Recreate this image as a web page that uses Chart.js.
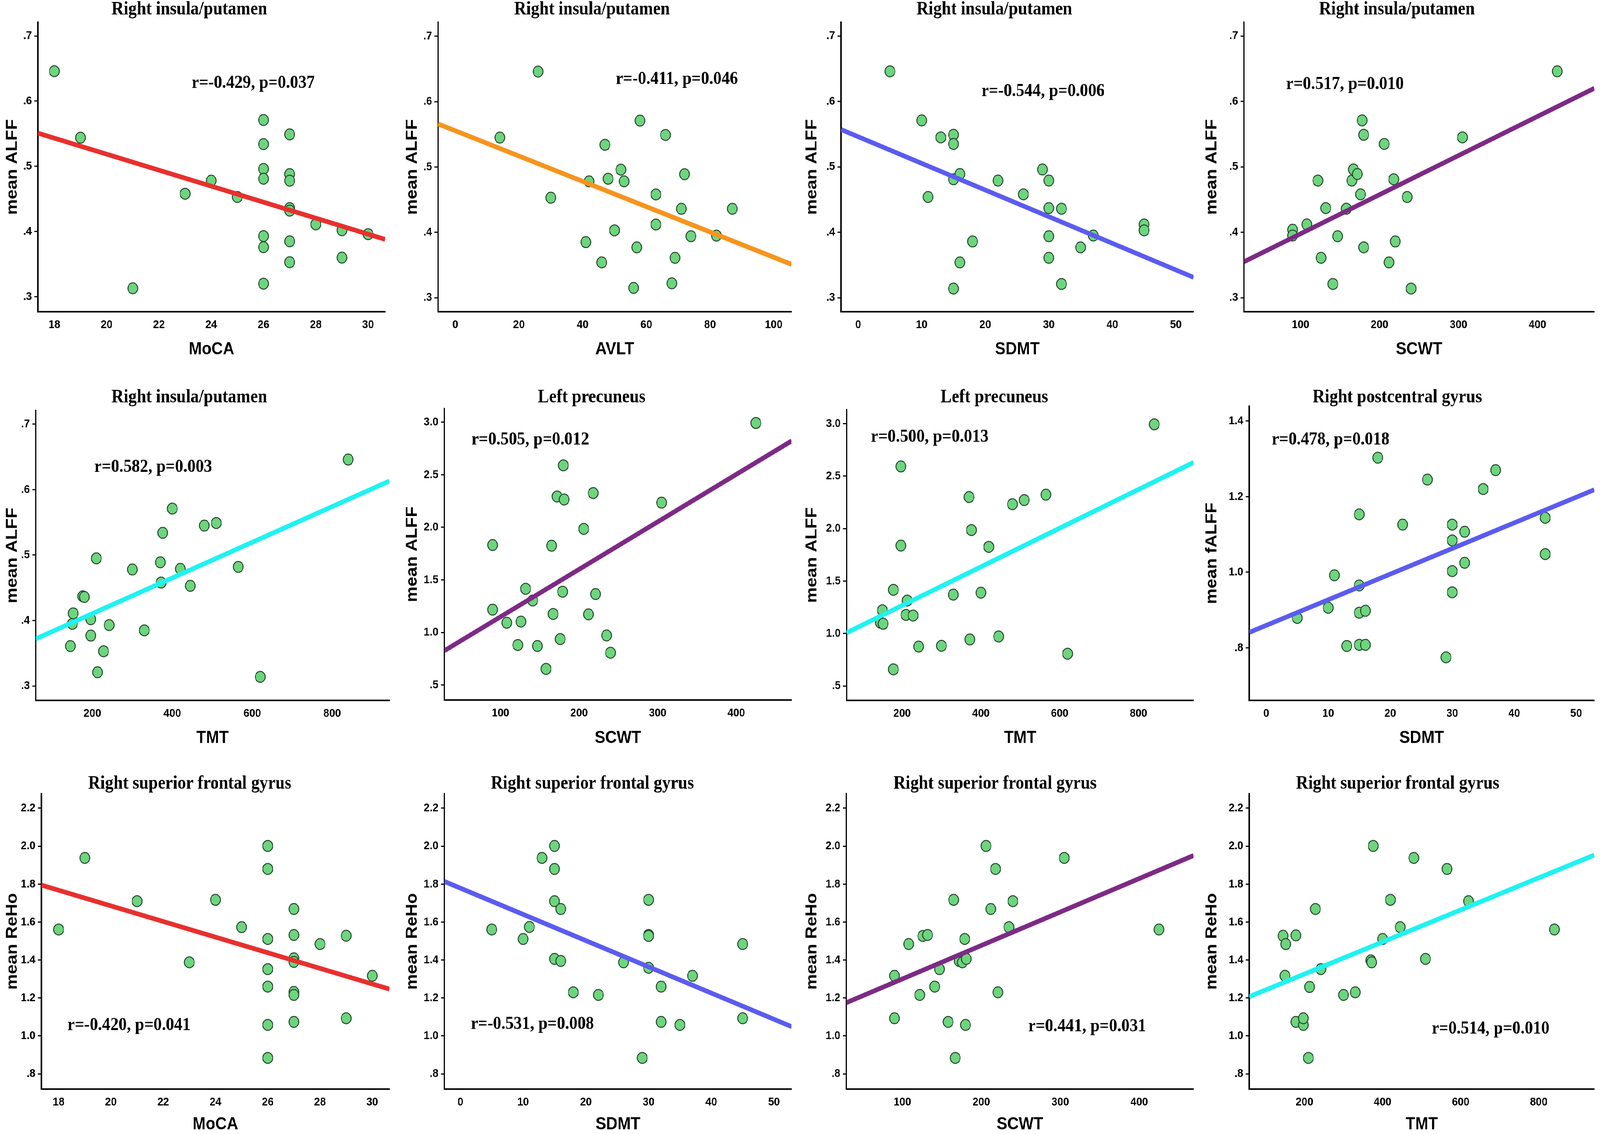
<!DOCTYPE html>
<html>
<head>
<meta charset="utf-8">
<script src="https://cdn.jsdelivr.net/npm/chart.js@4"></script>
<style>
  html, body { margin: 0; padding: 0; background: #fff; overflow: hidden; }
  #stage { position: absolute; left: 0; top: 0; width: 4562px; height: 2903px; transform-origin: 0 0; background: #fff; }
  canvas { position: absolute; }
</style>
</head>
<body>
<div id="stage"></div>
<script>
// ---- data ----
const mocaA = [18, 19, 21, 23, 24, 25, 26, 26, 26, 26, 26, 26, 26, 27, 27, 27, 27, 27, 27, 27, 28, 29, 29, 30];
const alffA = [.646, .544, .313, .458, .478, .453, .571, .534, .496, .481, .393, .376, .320, .549, .488, .478, .436, .432, .385, .353, .411, .402, .360, .396];

const avlt = [14, 26, 30, 41, 42, 46, 47, 48, 50, 52, 53, 56, 57, 58, 63, 63, 66, 68, 69, 71, 72, 74, 82, 87];
const alffB = [.545, .646, .453, .385, .478, .354, .534, .482, .403, .496, .478, .315, .377, .571, .458, .412, .549, .322, .361, .436, .489, .394, .395, .436];

const sdmtA = [5, 10, 11, 13, 15, 15, 15, 15, 16, 16, 18, 22, 26, 29, 30, 30, 30, 30, 32, 32, 35, 37, 45, 45];
const alffC = [.646, .571, .454, .545, .549, .535, .481, .314, .489, .354, .386, .479, .458, .496, .479, .437, .394, .361, .436, .321, .377, .395, .412, .403];

const scwtA = [90, 90, 108, 122, 126, 132, 141, 147, 158, 165, 167, 172, 176, 178, 180, 180, 206, 212, 218, 220, 235, 240, 305, 425];
const alffD = [.404, .395, .412, .479, .361, .437, .321, .394, .436, .479, .496, .489, .458, .571, .549, .377, .535, .354, .481, .386, .454, .314, .545, .646];

const tmtA = [145, 150, 152, 176, 180, 196, 196, 210, 213, 228, 242, 300, 330, 370, 372, 376, 400, 420, 445, 480, 510, 565, 620, 840];
const alffE = [.361, .395, .411, .437, .436, .402, .377, .495, .321, .353, .393, .478, .385, .489, .458, .534, .571, .479, .453, .545, .549, .482, .314, .646];

const scwtB = [90, 90, 108, 122, 126, 132, 141, 147, 158, 165, 167, 172, 176, 179, 180, 181, 206, 212, 218, 221, 235, 240, 305, 425];
const alffF = [1.832, 1.217, 1.092, .880, 1.103, 1.415, 1.304, .871, .653, 1.825, 1.176, 2.294, .937, 1.388, 2.590, 2.265, 1.985, 1.172, 2.326, 1.365, .971, .807, 2.235, 2.993];

const tmtB = [145, 150, 152, 178, 178, 197, 197, 210, 213, 228, 242, 300, 330, 370, 372, 376, 400, 420, 445, 480, 510, 565, 620, 840];
const alffG = [1.104, 1.222, 1.093, 1.416, .659, 1.838, 2.592, 1.177, 1.314, 1.172, .876, .883, 1.371, 2.300, .944, 1.986, 1.389, 1.826, .972, 2.232, 2.271, 2.323, .808, 2.993];

const sdmtB = [5, 10, 11, 13, 15, 15, 15, 15, 16, 16, 18, 22, 26, 29, 30, 30, 30, 30, 32, 32, 35, 37, 45, 45];
const falff = [.879, .906, .992, .805, 1.153, .965, .893, .808, .898, .808, 1.303, 1.126, 1.245, .775, 1.126, 1.084, 1.003, .947, 1.107, 1.025, 1.220, 1.270, 1.144, 1.048];

const mocaB = [18, 19, 21, 23, 24, 25, 26, 26, 26, 26, 26, 26, 26, 27, 27, 27, 27, 27, 27, 27, 28, 29, 29, 30];
const rehoA = [1.561, 1.938, 1.710, 1.388, 1.717, 1.573, 2.001, 1.880, 1.511, 1.352, 1.260, 1.058, .884, 1.669, 1.532, 1.409, 1.390, 1.232, 1.216, 1.074, 1.484, 1.528, 1.093, 1.317];

const sdmtC = [5, 10, 11, 13, 15, 15, 15, 15, 16, 16, 18, 22, 26, 29, 30, 30, 30, 30, 32, 32, 35, 37, 45, 45];
const rehoB = [1.561, 1.511, 1.574, 1.938, 2.001, 1.880, 1.710, 1.406, 1.669, 1.395, 1.230, 1.216, 1.388, .884, 1.717, 1.532, 1.527, 1.359, 1.260, 1.074, 1.058, 1.317, 1.484, 1.093];

const scwtC = [90, 90, 108, 122, 126, 132, 141, 147, 158, 165, 167, 172, 176, 179, 180, 181, 206, 212, 218, 221, 235, 240, 305, 425];
const rehoC = [1.317, 1.093, 1.484, 1.216, 1.527, 1.532, 1.260, 1.352, 1.074, 1.717, .884, 1.395, 1.388, 1.511, 1.058, 1.406, 2.001, 1.669, 1.880, 1.230, 1.573, 1.710, 1.938, 1.561];

const tmtC = [145, 150, 152, 178, 178, 197, 197, 210, 213, 228, 242, 300, 330, 370, 372, 376, 400, 420, 445, 480, 510, 565, 620, 840];
const rehoD = [1.528, 1.317, 1.484, 1.074, 1.530, 1.058, 1.093, .884, 1.258, 1.669, 1.352, 1.216, 1.230, 1.398, 1.388, 2.001, 1.511, 1.717, 1.573, 1.938, 1.406, 1.880, 1.710, 1.561];

// fit line end points [x0, y0, x1, y1], read at the axis ends
const fitLines = [
  [17.37, .551, 30.65, .388],
  [-5.4, .566, 105.6, .351],
  [-2.7, .557, 52.8, .331],
  [28.5, .355, 471.8, .620],
  [58.4, .372, 942.9, .613],
  [28.6, .826, 470.4, 2.822],
  [59.4, 1.008, 940, 2.631],
  [-2.73, .841, 52.9, 1.218],
  [17.34, 1.795, 30.65, 1.247],
  [-2.56, 1.814, 52.8, 1.049],
  [29, 1.175, 469, 1.951],
  [58.6, 1.207, 942, 1.953]
];

const titles = ['Right insula/putamen', 'Right insula/putamen', 'Right insula/putamen', 'Right insula/putamen',
  'Right insula/putamen', 'Left precuneus', 'Left precuneus', 'Right postcentral gyrus',
  'Right superior frontal gyrus', 'Right superior frontal gyrus', 'Right superior frontal gyrus', 'Right superior frontal gyrus'];
const stats = ['r=-0.429, p=0.037', 'r=-0.411, p=0.046', 'r=-0.544, p=0.006', 'r=0.517, p=0.010',
  'r=0.582, p=0.003', 'r=0.505, p=0.012', 'r=0.500, p=0.013', 'r=0.478, p=0.018',
  'r=-0.420, p=0.041', 'r=-0.531, p=0.008', 'r=0.441, p=0.031', 'r=0.514, p=0.010'];
const xTitles = ['MoCA', 'AVLT', 'SDMT', 'SCWT', 'TMT', 'SCWT', 'TMT', 'SDMT', 'MoCA', 'SDMT', 'SCWT', 'TMT'];
const yTitles = ['mean ALFF', 'mean ALFF', 'mean ALFF', 'mean ALFF', 'mean ALFF', 'mean ALFF', 'mean ALFF',
  'mean fALFF', 'mean ReHo', 'mean ReHo', 'mean ReHo', 'mean ReHo'];

const mocaTicks = [18, 20, 22, 24, 26, 28, 30];
const avltTicks = [0, 20, 40, 60, 80, 100];
const sdmtTicks = [0, 10, 20, 30, 40, 50];
const scwtTicks = [100, 200, 300, 400];
const tmtTicks = [200, 400, 600, 800];
const alffTicks = [.3, .4, .5, .6, .7];
const precTicks = [.5, 1.0, 1.5, 2.0, 2.5, 3.0];
const falffTicks = [.8, 1.0, 1.2, 1.4];
const rehoTicks = [.8, 1.0, 1.2, 1.4, 1.6, 1.8, 2.0, 2.2];

const series = [
  [mocaA, alffA, mocaTicks, alffTicks],
  [avlt, alffB, avltTicks, alffTicks],
  [sdmtA, alffC, sdmtTicks, alffTicks],
  [scwtA, alffD, scwtTicks, alffTicks],
  [tmtA, alffE, tmtTicks, alffTicks],
  [scwtB, alffF, scwtTicks, precTicks],
  [tmtB, alffG, tmtTicks, precTicks],
  [sdmtB, falff, sdmtTicks, falffTicks],
  [mocaB, rehoA, mocaTicks, rehoTicks],
  [sdmtC, rehoB, sdmtTicks, rehoTicks],
  [scwtC, rehoC, scwtTicks, rehoTicks],
  [tmtC, rehoD, tmtTicks, rehoTicks]
];

// axis ranges as drawn in the figure
const yRanges = [[.277, .721], [.2785, .7215], [.2786, .721], [.2786, .721], [.278, .7208],
  [.357, 3.13], [.363, 3.132], [.661, 1.439], [.72, 2.276], [.72, 2.276], [.72, 2.276], [.72, 2.276]];

// ---- layout (page pixels of the 4562x2903 figure) ----
const lineColors = ['#e8302e', '#f7941d', '#5b5cf0', '#7d2a85', '#1ff2f2', '#7d2a85',
  '#1ff2f2', '#5b5cf0', '#e8302e', '#5b5cf0', '#7d2a85', '#1ff2f2'];
const colX = [0, 1140, 2280, 3420];
const colW = [1140, 1140, 1140, 1142];
const rowY = [0, 960, 1940];
const rowH = [960, 980, 963];
const plotRects = [
  [108, 57, 1098, 798], [1249, 57, 2257, 798], [2398, 57, 3405, 798], [3547, 57, 4554, 798],
  [102, 1051, 1110, 1793], [1267, 1046, 2257, 1792], [2414, 1049, 3407, 1793], [3562, 1040, 4554, 1793],
  [118, 2032, 1110, 2788], [1267, 2032, 2257, 2788], [2413, 2032, 3405, 2788], [3562, 2032, 4554, 2788]
];
const titlePos = [[540, 37], [1688, 37], [2835, 37], [3983, 37], [540, 1030], [1687, 1030], [2835, 1030], [3984, 1030],
  [541, 2019], [1689, 2019], [2837, 2019], [3985, 2019]];
const statPos = [[722, 225], [1930, 215], [2974, 246], [3835, 228], [437, 1208], [1512, 1138], [2651, 1131], [3794, 1138],
  [368, 2637], [1518, 2634], [3100, 2640], [4250, 2646]];
const xTitlePad = [42.5, 27.5, 1.5];

const SANS = '"Liberation Sans", Arial, sans-serif';
const SERIF = '"Liberation Serif", "Times New Roman", serif';

// stretch the 4562x2903 stage over whatever viewport we actually get
const stage = document.getElementById('stage');
const vw = window.innerWidth || 4562, vh = window.innerHeight || 2903;
const sx = vw / 4562, sy = vh / 2903;
stage.style.transform = 'scale(' + sx + ',' + sy + ')';
document.body.style.width = vw + 'px';
document.body.style.height = vh + 'px';
const dpr = window.devicePixelRatio || 1;

function fmtY(v) {
  let s = Number(v).toFixed(1);
  if (s.startsWith('0.')) s = s.slice(1);
  return s;
}

const textPlugin = {
  id: 'panelText',
  afterDraw(chart, args, opts) {
    const ctx = chart.ctx;
    ctx.save();
    ctx.fillStyle = '#000';
    ctx.textAlign = 'center';
    ctx.textBaseline = 'alphabetic';
    ctx.font = 'bold 48px ' + SERIF;
    ctx.fillText(opts.title, opts.tx, opts.ty);
    ctx.font = 'bold 47px ' + SERIF;
    ctx.fillText(opts.stat, opts.sx, opts.sy);
    ctx.restore();
  }
};

series.forEach((s, i) => {
  const col = i % 4, row = Math.floor(i / 4);
  const cx = colX[col], cy = rowY[row], cw = colW[col], ch = rowH[row];
  const [L, T, R, B] = plotRects[i];
  const [xs, ys, xt, yt] = s;
  const f = fitLines[i];

  const canvas = document.createElement('canvas');
  canvas.width = cw; canvas.height = ch;
  canvas.style.left = cx + 'px'; canvas.style.top = cy + 'px';
  canvas.style.width = cw + 'px'; canvas.style.height = ch + 'px';
  stage.appendChild(canvas);

  const yWidth = L - cx;
  const xHeight = cy + ch - B;

  new Chart(canvas, {
    type: 'scatter',
    data: {
      datasets: [
        {
          type: 'line',
          data: [{ x: f[0], y: f[1] }, { x: f[2], y: f[3] }],
          borderColor: lineColors[i],
          borderWidth: 12,
          pointRadius: 0,
          fill: false
        },
        {
          data: xs.map((x, k) => ({ x: x, y: ys[k] })),
          backgroundColor: '#6dd57e',
          borderColor: '#24452b',
          borderWidth: 2.5,
          pointRadius: 14
        }
      ]
    },
    plugins: [textPlugin],
    options: {
      responsive: false,
      devicePixelRatio: dpr,
      animation: false,
      layout: { padding: { left: 0, top: T - cy, right: cx + cw - R, bottom: 0 } },
      plugins: {
        legend: { display: false },
        tooltip: { enabled: false },
        panelText: {
          title: titles[i], tx: titlePos[i][0] - cx, ty: titlePos[i][1] - cy,
          stat: stats[i], sx: statPos[i][0] - cx, sy: statPos[i][1] - cy
        }
      },
      scales: {
        x: {
          type: 'linear',
          min: f[0], max: f[2],
          afterBuildTicks: (sc) => { sc.ticks = xt.map(v => ({ value: v })); },
          afterFit: (sc) => { sc.height = xHeight; },
          border: { display: true, color: '#000', width: 4 },
          grid: { display: false, drawTicks: false, tickLength: 0 },
          ticks: {
            color: '#000', padding: 16, maxRotation: 0, autoSkip: false,
            font: { family: SANS, size: 30, weight: 'bold' },
            callback: (v) => String(v)
          },
          title: {
            display: true, text: xTitles[i], color: '#000',
            font: { family: SANS, size: 45, weight: 'bold', lineHeight: 1 },
            padding: { top: 0, bottom: xTitlePad[row] }
          }
        },
        y: {
          type: 'linear',
          min: yRanges[i][0], max: yRanges[i][1],
          afterBuildTicks: (sc) => { sc.ticks = yt.map(v => ({ value: v })); },
          afterFit: (sc) => { sc.width = yWidth; },
          border: { display: true, color: '#000', width: 4 },
          grid: { display: true, drawOnChartArea: false, drawTicks: true, tickLength: 10, color: '#000', lineWidth: 3 },
          ticks: {
            color: '#000', padding: 7, autoSkip: false,
            font: { family: SANS, size: 30, weight: 'bold' },
            callback: (v) => fmtY(v)
          },
          title: {
            display: true, text: yTitles[i], color: '#000',
            font: { family: SANS, size: 45, weight: 'bold', lineHeight: 1 },
            padding: { top: 13, bottom: 0 }
          }
        }
      }
    }
  });
});
</script>
</body>
</html>
